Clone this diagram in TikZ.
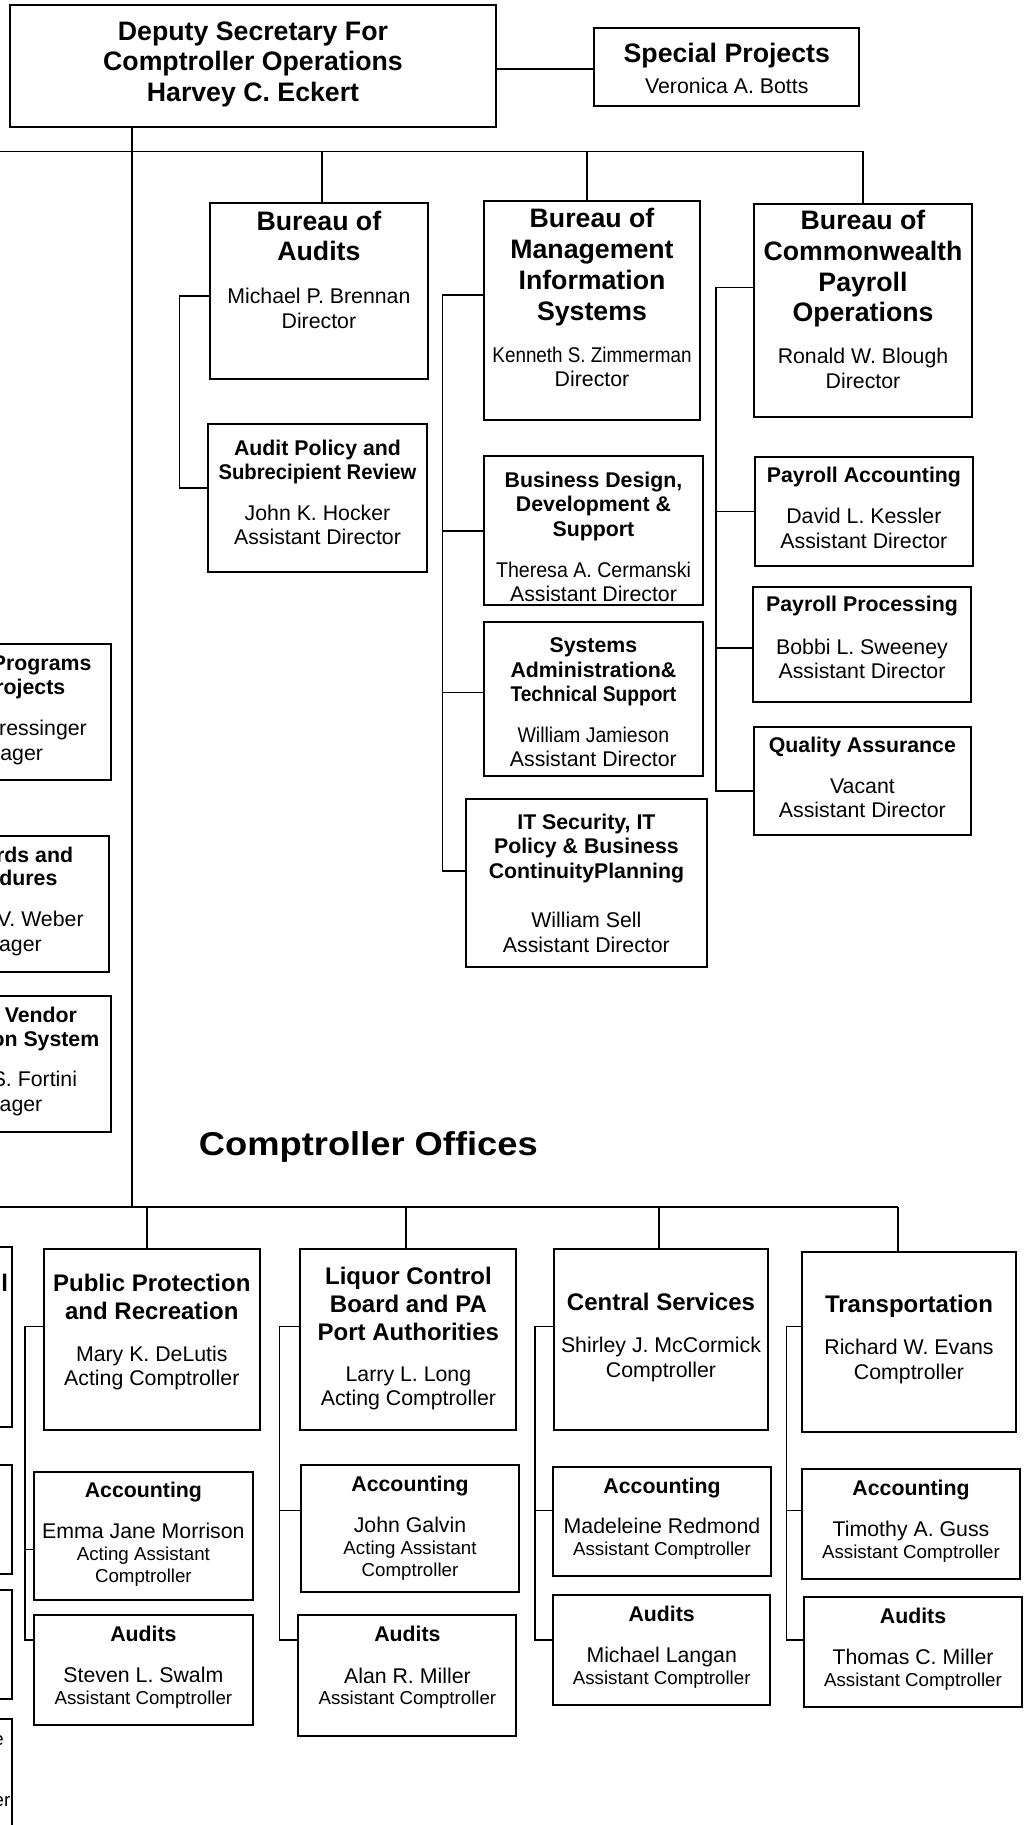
\documentclass[tikz,border=0pt]{standalone}
\usepackage{fontspec}
\setmainfont{Liberation Sans}

\newcommand{\bigbold}{\fontsize{26.7}{30.7}\selectfont\bfseries}
\newcommand{\midbold}{\fontsize{24}{28}\selectfont\bfseries}
\newcommand{\subbold}{\fontsize{21.3}{24.5}\selectfont\bfseries}
\newcommand{\namefont}{\fontsize{21.3}{24.5}\selectfont}
\newcommand{\smallname}{\fontsize{18.7}{21.5}\selectfont}
\newcommand{\titlefont}{\fontsize{33}{40}\selectfont\bfseries}
\newcommand{\narrow}[2][0.9]{\scalebox{#1}[1]{#2}}

\tikzset{
  unit/.style={draw, line width=2pt, inner sep=0pt},
  link/.style={line width=1.7pt},
  lbl/.style={anchor=north, inner sep=0pt, align=center},
  frag/.style={anchor=base east, inner sep=0pt},
}

\begin{document}
\begin{tikzpicture}[x=1pt, y=-1pt]
  \clip (0,0) rectangle (1026,1825);

  % top level
  \node[unit, minimum width=486, minimum height=122] (deputy) at (253,66) {};
  \node[unit, minimum width=265, minimum height=78.3] (special) at (726.8,66.9) {};
  \node[lbl, font=\bigbold] (deputy-t) at (253,18.5) {\strut Deputy Secretary For\\Comptroller Operations\\Harvey C. Eckert};
  \node[lbl, font=\bigbold] (special-h) at (726.8,41.2) {\strut Special Projects};
  \node[lbl, font=\namefont] (special-n) at (726.8,76.2) {\strut Veronica A. Botts};

  % bureaus
  \node[unit, minimum width=217.7, minimum height=176] (audits) at (318.9,291.3) {};
  \node[unit, minimum width=218.4, minimum height=148] (auditpol) at (317.5,498) {};
  \node[unit, minimum width=215.6, minimum height=218.2] (mis) at (592,310.4) {};
  \node[unit, minimum width=218.6, minimum height=149.9] (bizdes) at (593.5,530.5) {};
  \node[unit, minimum width=218.2, minimum height=153.8] (sysadm) at (593.4,698.9) {};
  \node[unit, minimum width=240.8, minimum height=168] (itsec) at (586.4,883) {};
  \node[unit, minimum width=217.5, minimum height=213.4] (payroll) at (863,310.6) {};
  \node[unit, minimum width=217.8, minimum height=109.4] (payacc) at (863.9,511.3) {};
  \node[unit, minimum width=218, minimum height=114.9] (payproc) at (862,644.5) {};
  \node[unit, minimum width=216.2, minimum height=107.5] (quality) at (862.4,781) {};

  \node[lbl, font=\bigbold] (audits-h) at (318.9,208.5) {\strut Bureau of\\Audits};
  \node[lbl, font=\namefont] (audits-n) at (318.9,286.2) {\strut Michael P. Brennan\\Director};
  \node[lbl, font=\subbold] (auditpol-h) at (317.5,437.9) {\strut Audit Policy and\\\narrow[0.95]{Subrecipient Review}};
  \node[lbl, font=\namefont] (auditpol-n) at (317.5,503) {\strut John K. Hocker\\Assistant Director};

  \node[lbl, font=\bigbold] (mis-h) at (592,206.3) {\strut Bureau of\\Management\\Information\\Systems};
  \node[lbl, font=\namefont] (mis-n) at (592,344.7) {\strut\narrow[0.885]{Kenneth S. Zimmerman}\\Director};
  \node[lbl, font=\subbold] (bizdes-h) at (593.5,469.7) {\strut Business Design,\\Development \&\\Support};
  \node[lbl, font=\namefont] (bizdes-n) at (593.5,559.7) {\strut\narrow[0.92]{Theresa A. Cermanski}\\Assistant Director};
  \node[lbl, font=\subbold] (sysadm-h) at (593.4,635.4) {\strut Systems\\Administration\&\\\narrow[0.9]{Technical Support}};
  \node[lbl, font=\namefont] (sysadm-n) at (593.4,724.9) {\strut\narrow[0.915]{William Jamieson}\\Assistant Director};
  \node[lbl, font=\subbold] (itsec-h) at (586.4,811.7) {\strut IT Security, IT\\Policy \& Business\\ContinuityPlanning};
  \node[lbl, font=\namefont] (itsec-n) at (586.4,910.5) {\strut William Sell\\Assistant Director};

  \node[lbl, font=\bigbold] (payroll-h) at (863,208.1) {\strut Bureau of\\Commonwealth\\Payroll\\Operations};
  \node[lbl, font=\namefont] (payroll-n) at (863,346.6) {\strut Ronald W. Blough\\Director};
  \node[lbl, font=\subbold] (payacc-h) at (863.9,464.9) {\strut Payroll Accounting};
  \node[lbl, font=\namefont] (payacc-n) at (863.9,506.4) {\strut David L. Kessler\\Assistant Director};
  \node[lbl, font=\subbold] (payproc-h) at (862,594.6) {\strut Payroll Processing};
  \node[lbl, font=\namefont] (payproc-n) at (862,636.9) {\strut Bobbi L. Sweeney\\Assistant Director};
  \node[lbl, font=\subbold] (quality-h) at (862.4,735.4) {\strut Quality Assurance};
  \node[lbl, font=\namefont] (quality-n) at (862.4,775.9) {\strut Vacant\\Assistant Director};

  % boxes cut by the left edge
  \node[unit, minimum width=150.5, minimum height=136.4] (lprog) at (35.3,711.8) {};
  \node[unit, minimum width=148.6, minimum height=136.8] (lstand) at (34.3,903.9) {};
  \node[unit, minimum width=150.6, minimum height=136.8] (lvendor) at (35.3,1064) {};
  \node[unit, minimum width=52.5, minimum height=180.2] (lcuta) at (-13.8,1337.3) {};
  \node[unit, minimum width=52.5, minimum height=109.2] (lcutb) at (-13.8,1519.6) {};
  \node[unit, minimum width=52.5, minimum height=109] (lcutc) at (-13.8,1644.1) {};
  \node[unit, minimum width=52.5, minimum height=141] (lcutd) at (-13.8,1789.5) {};

  \node[frag, font=\subbold] (lprog-a) at (91.6,670.4) {Programs};
  \node[frag, font=\subbold] (lprog-b) at (65.4,694.1) {rojects};
  \node[frag, font=\namefont] (lprog-c) at (87,735.7) {ressinger};
  \node[frag, font=\namefont] (lprog-d) at (43.2,760.2) {ager};
  \node[frag, font=\subbold] (lstand-a) at (73.3,862.2) {rds and};
  \node[frag, font=\subbold] (lstand-b) at (57.6,885.9) {dures};
  \node[frag, font=\namefont] (lstand-c) at (83.8,926.7) {V. Weber};
  \node[frag, font=\namefont] (lstand-d) at (41.9,951.9) {ager};
  \node[frag, font=\subbold] (lvendor-a) at (77.2,1022.3) {Vendor};
  \node[frag, font=\subbold] (lvendor-b) at (99.5,1046) {on System};
  \node[frag, font=\namefont] (lvendor-c) at (77.2,1086.7) {S. Fortini};
  \node[frag, font=\namefont] (lvendor-d) at (42.5,1111.3) {ager};
  \node[frag, font=\midbold] (lcuta-a) at (8.3,1291) {l};
  \node[frag, font=\smallname] (lcutd-a) at (4,1745.5) {e};
  \node[frag, font=\smallname] (lcutd-b) at (10.5,1806) {er};

  % comptroller offices
  \node[anchor=base, inner sep=0pt, font=\titlefont] (offices) at (368.4,1155) {\scalebox{1.1}[1]{Comptroller Offices}};

  \node[unit, minimum width=216, minimum height=180.4] (pp) at (151.8,1339.6) {};
  \node[unit, minimum width=216, minimum height=180.4] (lcb) at (408.4,1339.6) {};
  \node[unit, minimum width=213.4, minimum height=180.4] (cs) at (661,1339.6) {};
  \node[unit, minimum width=213.3, minimum height=180] (tr) at (909,1341.9) {};
  \node[unit, minimum width=218.4, minimum height=128.4] (ppacc) at (143.4,1535.9) {};
  \node[unit, minimum width=218.4, minimum height=109.3] (ppaud) at (143.4,1670) {};
  \node[unit, minimum width=218, minimum height=126.6] (lcbacc) at (410,1528.2) {};
  \node[unit, minimum width=218, minimum height=120.3] (lcbaud) at (407.4,1675.5) {};
  \node[unit, minimum width=218, minimum height=109] (csacc) at (662,1521.5) {};
  \node[unit, minimum width=217.3, minimum height=109.5] (csaud) at (661.7,1650) {};
  \node[unit, minimum width=217.2, minimum height=109.5] (tracc) at (911,1523.8) {};
  \node[unit, minimum width=218.6, minimum height=109.5] (traud) at (913,1652) {};

  \node[lbl, font=\midbold] (pp-h) at (151.8,1271.9) {\strut Public Protection\\and Recreation};
  \node[lbl, font=\namefont] (pp-n) at (151.8,1343.9) {\strut Mary K. DeLutis\\Acting Comptroller};
  \node[lbl, font=\midbold] (lcb-h) at (408.4,1264.3) {\strut Liquor Control\\Board and PA\\Port Authorities};
  \node[lbl, font=\namefont] (lcb-n) at (408.4,1364) {\strut Larry L. Long\\Acting Comptroller};
  \node[lbl, font=\midbold] (cs-h) at (661,1291) {\strut Central Services};
  \node[lbl, font=\namefont] (cs-n) at (661,1335.2) {\strut Shirley J. McCormick\\Comptroller};
  \node[lbl, font=\midbold] (tr-h) at (909,1292.7) {\strut Transportation};
  \node[lbl, font=\namefont] (tr-n) at (909,1337.3) {\strut Richard W. Evans\\Comptroller};

  \node[lbl, font=\subbold] (ppacc-h) at (143.4,1479.9) {\strut Accounting};
  \node[lbl, font=\namefont] (ppacc-n) at (143.4,1520.9) {\strut Emma Jane Morrison};
  \node[lbl, font=\smallname] (ppacc-r) at (143.4,1545.5) {\strut Acting Assistant\\Comptroller};
  \node[lbl, font=\subbold] (ppaud-h) at (143.4,1623.9) {\strut Audits};
  \node[lbl, font=\namefont] (ppaud-n) at (143.4,1664.9) {\strut Steven L. Swalm};
  \node[lbl, font=\smallname] (ppaud-r) at (143.4,1689) {\strut Assistant Comptroller};

  \node[lbl, font=\subbold] (lcbacc-h) at (410,1473.9) {\strut Accounting};
  \node[lbl, font=\namefont] (lcbacc-n) at (410,1514.9) {\strut John Galvin};
  \node[lbl, font=\smallname] (lcbacc-r) at (410,1539.7) {\strut Acting Assistant\\Comptroller};
  \node[lbl, font=\subbold] (lcbaud-h) at (407.4,1624.3) {\strut Audits};
  \node[lbl, font=\namefont] (lcbaud-n) at (407.4,1666) {\strut Alan R. Miller};
  \node[lbl, font=\smallname] (lcbaud-r) at (407.4,1689.3) {\strut Assistant Comptroller};

  \node[lbl, font=\subbold] (csacc-h) at (662,1476) {\strut Accounting};
  \node[lbl, font=\namefont] (csacc-n) at (662,1516.5) {\strut Madeleine Redmond};
  \node[lbl, font=\smallname] (csacc-r) at (662,1540.6) {\strut Assistant Comptroller};
  \node[lbl, font=\subbold] (csaud-h) at (661.7,1604.2) {\strut Audits};
  \node[lbl, font=\namefont] (csaud-n) at (661.7,1645.1) {\strut Michael Langan};
  \node[lbl, font=\smallname] (csaud-r) at (661.7,1669.2) {\strut Assistant Comptroller};

  \node[lbl, font=\subbold] (tracc-h) at (911,1478.1) {\strut Accounting};
  \node[lbl, font=\namefont] (tracc-n) at (911,1519) {\strut Timothy A. Guss};
  \node[lbl, font=\smallname] (tracc-r) at (911,1543.1) {\strut Assistant Comptroller};
  \node[lbl, font=\subbold] (traud-h) at (913,1606.3) {\strut Audits};
  \node[lbl, font=\namefont] (traud-n) at (913,1647.2) {\strut Thomas C. Miller};
  \node[lbl, font=\smallname] (traud-r) at (913,1671.3) {\strut Assistant Comptroller};

  % connectors
  \coordinate (trunk) at (132.3,0);
  \coordinate (bus1) at (0,151.5);
  \coordinate (bus2) at (0,1207);
  \coordinate (audspine) at (179.6,0);
  \coordinate (misspine) at (442.4,0);
  \coordinate (payspine) at (716,0);

  \draw[link] (deputy.east |- 0,69.3) -- (special.west |- 0,69.3);
  \draw[link] (trunk |- deputy.south) -- (trunk |- bus2);
  \draw[link] (bus1) -- (payroll.north |- bus1) -- (payroll.north);
  \foreach \x/\n in {322.3/audits, 586.7/mis}
    \draw[link] (\x,0 |- bus1) -- (\x,0 |- \n.north);

  \draw[link] (audits.west |- 0,296) -- (audspine |- 0,296) |- (auditpol.west |- 0,487.7);
  \draw[link] (mis.west |- 0,295) -- (misspine |- 0,295) |- (itsec.west |- 0,871);
  \foreach \n/\y in {bizdes/530.8, sysadm/692.5}
    \draw[link] (misspine |- 0,\y) -- (\n.west |- 0,\y);
  \draw[link] (payroll.west |- 0,287.6) -- (payspine |- 0,287.6) |- (quality.west |- 0,791.2);
  \foreach \n/\y in {payacc/511.4, payproc/647.7}
    \draw[link] (payspine |- 0,\y) -- (\n.west |- 0,\y);

  \draw[link] (bus2) -- (898,0 |- bus2);
  \foreach \x/\n in {147.3/pp, 406.3/lcb, 659/cs, 898/tr}
    \draw[link] (\x,0 |- bus2) -- (\x,0 |- \n.north);

  \foreach \top/\acc/\aud/\sx/\my in {pp/ppacc/ppaud/25/1549.6, lcb/lcbacc/lcbaud/279.5/1510.4,
      cs/csacc/csaud/535.3/1510.4, tr/tracc/traud/786.6/1510.4} {
    \draw[link] (\top.west |- 0,1326.5) -- (\sx,0 |- \top.west |- 0,1326.5) |- (\aud.west |- 0,1640);
    \draw[link] (\sx,\my) -- (\acc.west |- 0,\my);
  }
\end{tikzpicture}
\end{document}
